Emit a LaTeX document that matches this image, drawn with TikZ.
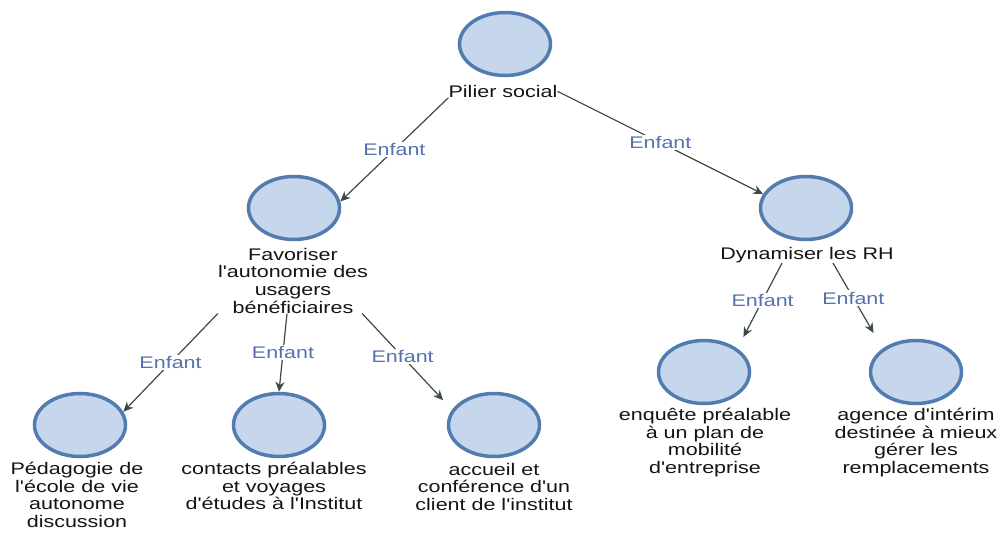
\documentclass[tikz,border=0pt]{standalone}
\usepackage{fontspec}
\setmainfont[FakeStretch=1.28, Ligatures=TeXOff]{Liberation Sans}
\usetikzlibrary{shapes.geometric,arrows.meta}
\definecolor{ringblue}{HTML}{527CB0}
\definecolor{fillblue}{HTML}{C6D6EC}
\definecolor{linkgray}{HTML}{3A4A45}
\definecolor{labblue}{HTML}{5572AE}
\definecolor{txtgray}{HTML}{141414}
\newcommand{\nodefont}{\fontsize{16.8pt}{17.6pt}\selectfont}

\begin{document}
\begin{tikzpicture}[x = 1pt, y = -1pt,
  bubble/.style = {ellipse, draw = ringblue, fill = fillblue, line width = 3.5pt,
    minimum width = 91pt, minimum height = 63pt, inner sep = 0pt},
  txt/.style = {align = center, anchor = north, inner sep = 0pt, font = \nodefont, text = txtgray},
  link/.style = {draw = linkgray, line width = 1.2pt, -{Stealth[length = 10pt, width = 9pt]}},
  lab/.style = {fill = white, inner sep = 1.5pt, font = \nodefont, text = labblue}]
  \useasboundingbox (0,0) rectangle (1001,533);
  % circles
  \node[bubble] (pil) at (505,44) {};
  \node[bubble] (fav) at (294,208) {};
  \node[bubble] (dyn) at (806,208) {};
  \node[bubble] (ped) at (80,425) {};
  \node[bubble] (con) at (279,425) {};
  \node[bubble] (acc) at (494,425) {};
  \node[bubble] (enq) at (704,372) {};
  \node[bubble] (age) at (916,372) {};
  % texts
  \node[txt] (pilT) at (503,85) {Pilier social};
  \node[txt] (favT) at (293,248) {Favoriser\\l'autonomie des\\usagers\\bénéficiaires};
  \node[txt] (dynT) at (807,247) {Dynamiser les RH};
  \node[txt] (pedT) at (77,462) {Pédagogie de\\l'école de vie\\autonome\\discussion};
  \node[txt] (conT) at (274,462) {contacts préalables\\et voyages\\d'études à l'Institut};
  \node[txt] (accT) at (494,463) {accueil et\\conférence d'un\\client de l'institut};
  \node[txt] (enqT) at (705,408) {enquête préalable\\à un plan de\\mobilité\\d'entreprise};
  \node[txt] (ageT) at (916,408) {agence d'intérim\\destinée à mieux\\gérer les\\remplacements};
  % links
  \draw[link] (pilT.south west) -- node[lab] {Enfant} (fav.8);
  \draw[link] (pilT.east) -- node[lab] {Enfant} (dyn.162);
  \draw[link] (favT.south west) -- node[lab] {Enfant} (ped.17);
  \draw[link] ([xshift=-6pt]favT.south) -- node[lab] {Enfant} (con.north);
  \draw[link, shorten >= 13pt] ([xshift=-6pt]favT.south east) -- node[lab, pos = .45] {Enfant} (acc.160);
  \draw[link, shorten >= 13pt] ([xshift=-25pt]dynT.south) -- node[lab, pos = .435] {Enfant} (enq.north east);
  \draw[link, shorten >= 18pt] ([xshift=26pt]dynT.south) -- node[lab, pos = .41] {Enfant} (age.north west);
\end{tikzpicture}
\end{document}
